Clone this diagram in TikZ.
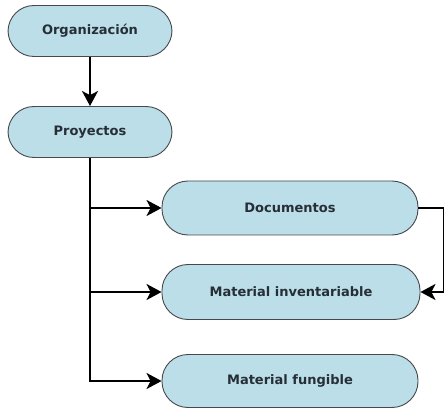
\documentclass[tikz,border=0pt]{standalone}
\usepackage{fontspec}
\usetikzlibrary{arrows.meta}
\newfontfamily\cajafont{DejaVu Sans}
\definecolor{celeste}{RGB}{187,222,232}
\definecolor{borde}{RGB}{70,72,74}
\definecolor{texto}{RGB}{38,46,54}

\begin{document}
\begin{tikzpicture}[x=1pt,y=-1pt]

  % Styles
  \tikzstyle{caja} = [draw=borde, line width=0.9pt, fill=celeste, rounded corners=26pt,
                      text=texto, font=\cajafont\bfseries\fontsize{13}{15}\selectfont]
  \tikzstyle{flecha} = [-{Stealth[length=15pt,width=16pt,inset=4pt]}, line width=1.8pt]

  % Cadre
  \useasboundingbox[fill=white] (0,0) rectangle (445,409);

  % Boîtes
  \node[caja, minimum width=164pt, minimum height=51pt] (org) at (90,31) {Organización};
  \node[caja, minimum width=164pt, minimum height=51pt] (proy) at (90,132) {Proyectos};
  \node[caja, minimum width=256pt, minimum height=54pt] (doc) at (290,208) {Documentos};
  \node[caja, minimum width=258pt, minimum height=55pt] (inv) at (291,292) {Material inventariable};
  \node[caja, minimum width=256pt, minimum height=53pt] (fung) at (290,381) {Material fungible};

  % Flèches
  \draw[flecha] (org) -- (proy);
  \draw[flecha] (proy.south) |- (doc.west);
  \draw[flecha] (proy.south) |- (inv.west);
  \draw[flecha] (proy.south) |- (fung.west);
  \draw[flecha] (doc.east) -- ++(25,0) |- (inv.east);

\end{tikzpicture}
\end{document}
